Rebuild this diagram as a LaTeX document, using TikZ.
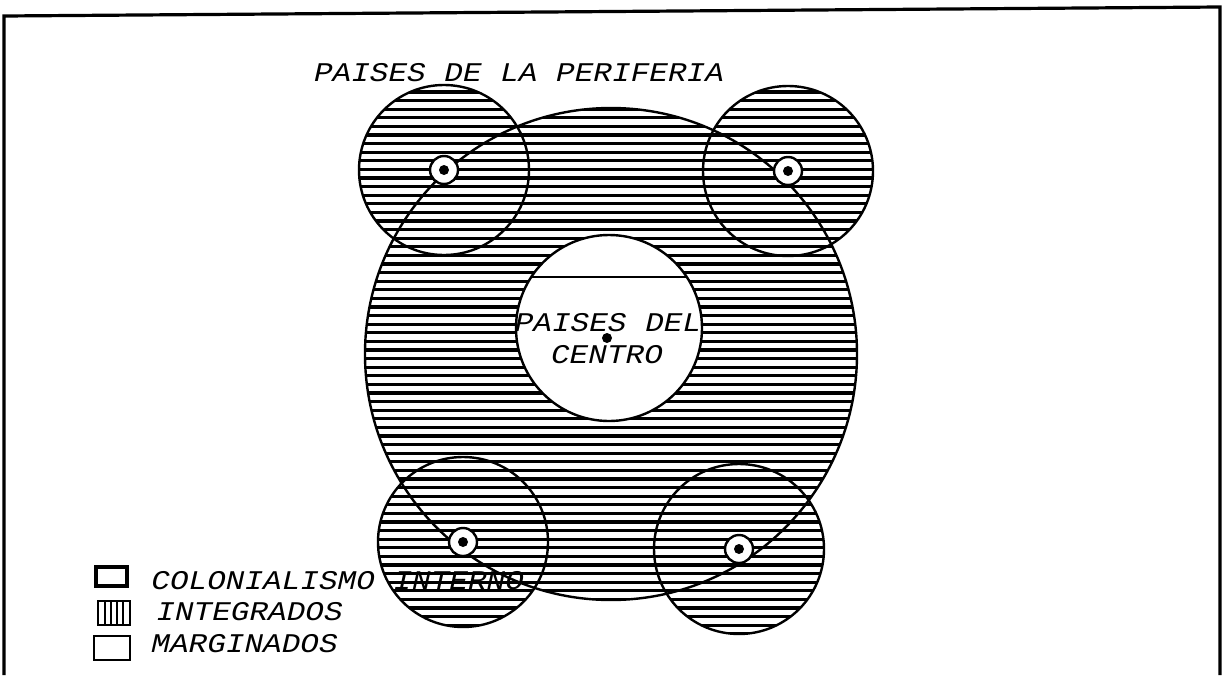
\documentclass[tikz,border=0pt]{standalone}
\usepackage{fontspec}
\newfontfamily\typefont[FakeStretch=1.15]{Liberation Mono}
\usetikzlibrary{calc}

\tikzset{
  hatch/.style={line width=1.6pt},
  rim/.style={line width=1.2pt},
  rotulo/.style={font=\typefont\itshape\fontsize{13.5}{16}\selectfont, inner sep=0pt}
}

\begin{document}
\begin{tikzpicture}[x=0.5pt,y=-0.5pt]
\useasboundingbox (0,0) rectangle (1225,675);
\draw[line width=1.6pt] (4,675) -- (4,16) -- (1220,7) -- (1220,675);

\coordinate (medio) at (611,354);
\coordinate (blanco) at (609,328);
\coordinate (nucleo) at (607,338);
\coordinate (p1) at (444,170);
\coordinate (p2) at (788,171);
\coordinate (p3) at (463,542);
\coordinate (p4) at (739,549);

\begin{scope}
\clip (medio) circle[radius=246];
\foreach \y in {92,100.6,...,640} \draw[hatch] (340,\y) -- (880,\y);
\end{scope}
\fill[white] (blanco) circle[radius=93];

\foreach \c in {p1,p2,p3,p4} {
  \begin{scope}
  \clip (\c) circle[radius=85];
  \foreach \y in {92,100.6,...,640} \draw[hatch] (340,\y) -- (880,\y);
  \end{scope}
}

\draw[rim] (medio) circle[radius=246];
\foreach \c in {p1,p2,p3,p4} \draw[rim] (\c) circle[radius=85];
\draw[rim] (blanco) circle[radius=93];
\draw[rim] ($(blanco)+(-78,-51)$) -- ($(blanco)+(78,-51)$);

\foreach \c in {p1,p2,p3,p4} {
  \filldraw[rim, fill=white] (\c) circle[radius=14];
  \fill (\c) circle[radius=5];
}
\fill (nucleo) circle[radius=5];

\node[rotulo] (periferia) at (519,73) {PAISES DE LA PERIFERIA};
\node[rotulo] (centro1) at (608,323) {PAISES DEL};
\node[rotulo] (centro2) at (607,355) {CENTRO};

\draw[line width=2.2pt] (96,567) rectangle (127,586);
\draw[line width=1pt] (98,625) -- (98,601) -- (130,601) -- (130,625) -- cycle;
\foreach \x in {105,111,117,123} \draw[line width=1pt] (\x,601) -- (\x,625);
\draw[line width=1.1pt] (94,636) rectangle (130,660);

\node[rotulo, anchor=west] (colonial) at (151,581) {COLONIALISMO INTERNO};
\node[rotulo, anchor=west] (integ) at (156,612) {INTEGRADOS};
\node[rotulo, anchor=west] (margin) at (151,644) {MARGINADOS};
\end{tikzpicture}
\end{document}
